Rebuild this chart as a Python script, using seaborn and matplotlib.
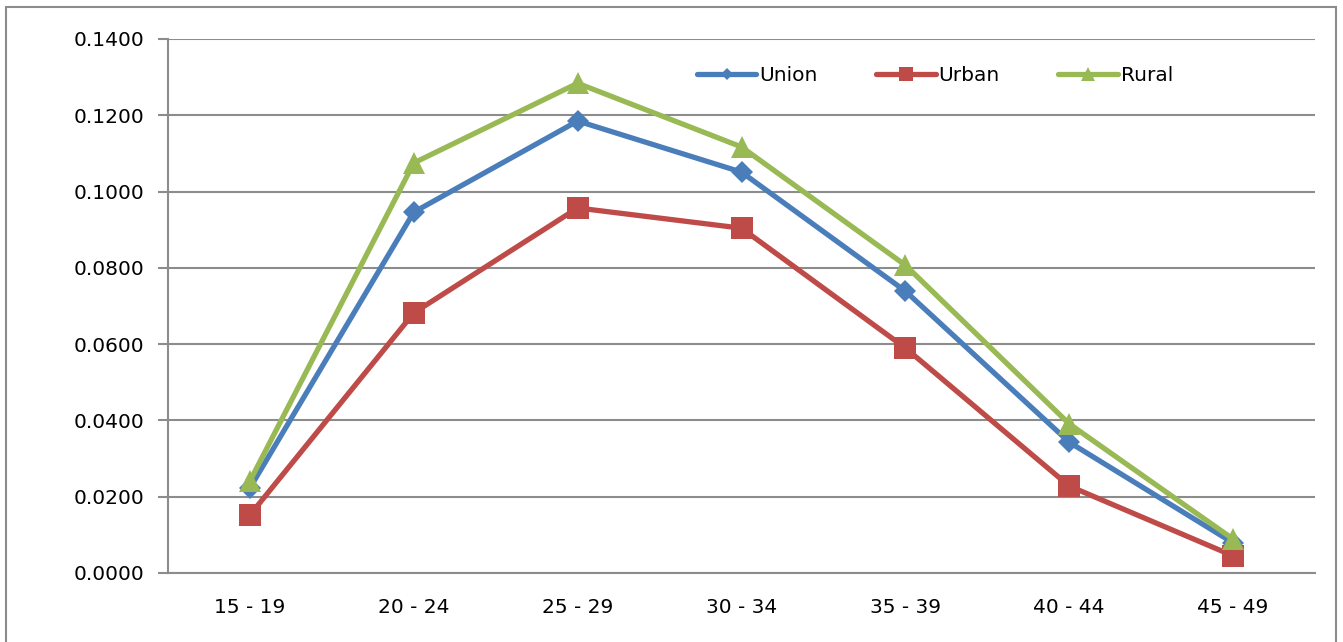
import numpy as np
import pandas as pd
import matplotlib
matplotlib.use("Agg")
import matplotlib.pyplot as plt
from matplotlib.patches import Rectangle
import seaborn as sns

age_groups = ["15 - 19", "20 - 24", "25 - 29", "30 - 34", "35 - 39", "40 - 44", "45 - 49"]
union = [0.0223, 0.0946, 0.1185, 0.1051, 0.0739, 0.0343, 0.0079]
urban = [0.0152, 0.0682, 0.0957, 0.0904, 0.0590, 0.0228, 0.0045]
rural = [0.0241, 0.1075, 0.1284, 0.1117, 0.0807, 0.0391, 0.0089]

series = {"Union": union, "Urban": urban, "Rural": rural}
colors = {"Union": "#4A7EBB", "Urban": "#BE4B48", "Rural": "#98B954"}
markers = {"Union": "D", "Urban": "s", "Rural": "^"}
msizes = {"Union": 11, "Urban": 16, "Rural": 16}

sns.set_style("white")
plt.rcParams["font.family"] = ["DejaVu Sans"]
plt.rcParams["text.color"] = "black"
plt.rcParams["xtick.color"] = "black"
plt.rcParams["ytick.color"] = "black"

fig = plt.figure(figsize=(13.43, 6.42), dpi=100)
ax = fig.add_axes([168 / 1343, 69 / 642, (1315 - 168) / 1343, (573 - 39) / 642])

for name, vals in series.items():
    df = pd.DataFrame({"age": range(len(age_groups)), "value": vals})
    sns.lineplot(data=df, x="age", y="value", ax=ax, color=colors[name],
                 marker=markers[name], markersize=msizes[name], linewidth=3.8,
                 markeredgewidth=0, label=name, sort=False)

grid_col = "#8C8C8C"
ax.set_xlim(-0.5, len(age_groups) - 0.5)
ax.set_ylim(0, 0.14)
ax.set_yticks(np.arange(0, 0.1401, 0.02))
ax.set_yticklabels([f"{v:.4f}" for v in np.arange(0, 0.1401, 0.02)])
ax.set_xticks(range(len(age_groups)))
ax.set_xticklabels(age_groups)
ax.set_xticks(np.arange(-0.5, len(age_groups), 1), minor=True)
ax.tick_params(axis="x", which="major", length=0, pad=18, labelsize=14.5, labelcolor="black")
ax.tick_params(axis="x", which="minor", length=7, width=1.5, color=grid_col)
ax.tick_params(axis="y", length=7, width=1.5, color=grid_col, pad=10, labelsize=14.5,
               left=True, labelcolor="black")
ax.yaxis.grid(True, color=grid_col, linewidth=1.5)
ax.set_axisbelow(True)
ax.set_xlabel("")
ax.set_ylabel("")
for s in ["top", "right"]:
    ax.spines[s].set_visible(False)
for s in ["left", "bottom"]:
    ax.spines[s].set_color(grid_col)
    ax.spines[s].set_linewidth(1.5)

ax.legend(loc="upper left", bbox_to_anchor=((697 - 168) / 1147, 0.949), ncol=3, frameon=False,
          fontsize=14.5, handlelength=2.95, handletextpad=0.15, columnspacing=2.9,
          markerscale=0.6, borderpad=0, borderaxespad=0)

fig.patches.append(Rectangle((6 / 1343, -0.01), 1330 / 1343, 1 - 7 / 642 + 0.01,
                             transform=fig.transFigure, fill=False,
                             edgecolor="#8C8C8C", linewidth=1.5))

fig.savefig("out.png", dpi=100)
